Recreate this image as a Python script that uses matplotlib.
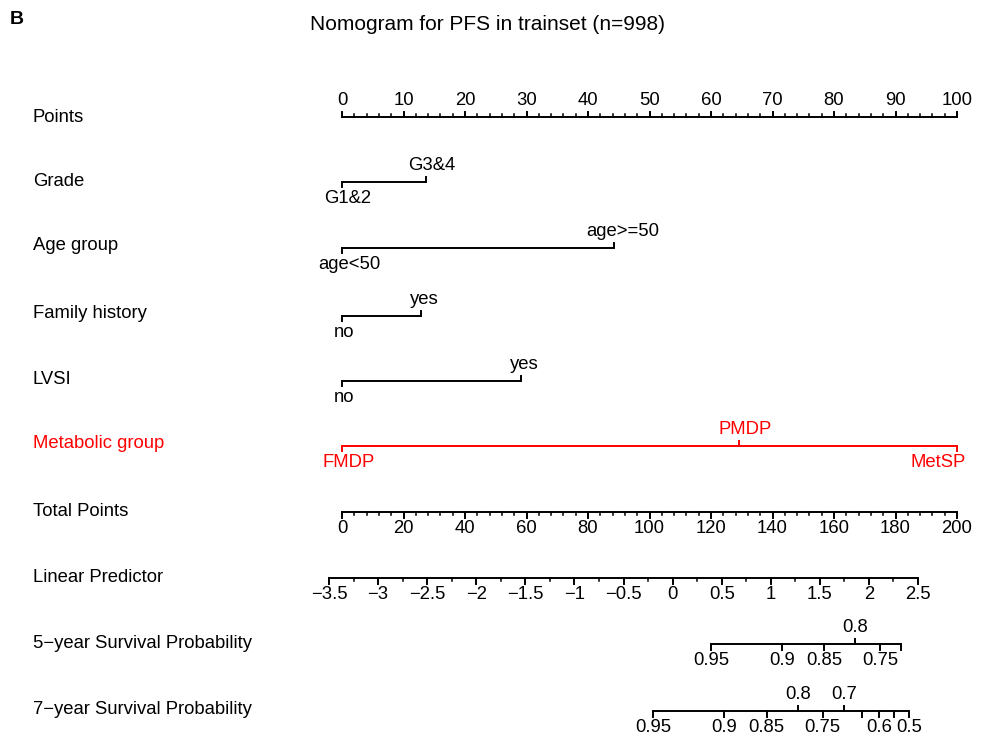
"""Nomogram for PFS in the training set, redrawn with matplotlib."""

import matplotlib

matplotlib.use("Agg")

import matplotlib.pyplot as plt
import numpy as np
from matplotlib.transforms import offset_copy

plt.rcParams["font.family"] = ["Liberation Sans", "DejaVu Sans"]

TITLE = "Nomogram for PFS in trainset (n=998)"
PANEL = "B"
MINUS = "\u2212"

# points contributed by each level of each predictor
grade_levels = ["G1&2", "G3&4"]
grade_points = [0.0, 13.6]
age_levels = ["age<50", "age>=50"]
age_points = [0.0, 44.2]
family_levels = ["no", "yes"]
family_points = [0.0, 12.8]
lvsi_levels = ["no", "yes"]
lvsi_points = [0.0, 29.1]
metabolic_levels = ["FMDP", "PMDP", "MetSP"]
metabolic_points = [0.0, 64.5, 100.0]

points_major = np.arange(0, 101, 10)
points_minor = np.arange(0, 101, 2)
total_major = np.arange(0, 201, 20)
total_minor = np.arange(0, 201, 4)
lp_major = np.arange(-3.5, 2.51, 0.5)
lp_minor = np.arange(-3.5, 2.51, 0.25)

# linear predictor = LP_AT_ZERO + LP_PER_TOTAL * total points
LP_AT_ZERO = -3.368
LP_PER_TOTAL = 0.031325

# survival S(t) = S0(t) ** exp(lp)
surv5_baseline = 0.9659
surv5_ticks = [0.95, 0.9, 0.85, 0.8, 0.75, 0.7]
surv5_labels = ["0.95", "0.9", "0.85", "0.8", "0.75", ""]
surv5_above = [False, False, False, True, False, False]
surv7_baseline = 0.9395
surv7_ticks = [0.95, 0.9, 0.85, 0.8, 0.75, 0.7, 0.65, 0.6, 0.55, 0.5]
surv7_labels = ["0.95", "0.9", "0.85", "0.8", "0.75", "0.7", "", "0.6", "", "0.5"]
surv7_above = [False, False, False, True, False, True, False, False, False, False]

row_labels = [
    "Points", "Grade", "Age group", "Family history", "LVSI",
    "Metabolic group", "Total Points", "Linear Predictor",
    f"5{MINUS}year Survival Probability", f"7{MINUS}year Survival Probability",
]
row_text_y = [117, 181, 245, 313, 380, 444, 512, 578, 643, 709]
row_line_y = [117, 182, 248, 316, 381, 446, 512, 578, 644, 711]

W, H = 995, 736
X0_PX, X100_PX = 342, 957
FS = 13.3
LW = 1.4
LABEL_OFF = 16.5
MAJOR_LEN, MINOR_LEN, END_LEN = 5.5, 3.0, 5.0
LABEL_SHIFT = 0.12      # level labels sit a little right of their tick
RIGHT_EDGE_PAD = 9      # px a right-most level label may pass the line end


def total_to_points(total):
    return np.asarray(total, dtype=float) / 2.0


def lp_to_points(lp):
    return total_to_points((np.asarray(lp, dtype=float) - LP_AT_ZERO) / LP_PER_TOTAL)


def surv_to_points(surv, baseline):
    surv = np.asarray(surv, dtype=float)
    lp = np.log(-np.log(surv)) - np.log(-np.log(baseline))
    return lp_to_points(lp)


def fmt(value):
    return f"{value:g}".replace("-", MINUS)


def draw_scale(ax, y, major, labels, minor=None, above=None, color="black"):
    major = np.asarray(major, dtype=float)
    if above is None:
        above = [False] * len(major)
    ax.plot([major.min(), major.max()], [y, y], color=color, lw=LW,
            solid_capstyle="butt")
    if minor is not None:
        for x in minor:
            ax.plot([x, x], [y, y + MINOR_LEN * (-1 if above[0] else 1)],
                    color=color, lw=LW * 0.8)
    for x, label, up in zip(major, labels, above):
        sign = -1 if up else 1
        ax.plot([x, x], [y, y + sign * MAJOR_LEN], color=color, lw=LW)
        if label:
            ax.text(x, y + sign * LABEL_OFF, label, ha="center", va="center",
                    fontsize=FS, color=color)


def draw_factor(ax, renderer, y, levels, points, above, color="black",
                last_right=False):
    ax.plot([min(points), max(points)], [y, y], color=color, lw=LW,
            solid_capstyle="butt")
    for i, (x, label, up) in enumerate(zip(points, levels, above)):
        sign = -1 if up else 1
        ax.plot([x, x], [y, y + sign * END_LEN], color=color, lw=LW)
        text = ax.text(x, y + sign * LABEL_OFF, label, ha="center",
                       va="center", fontsize=FS, color=color)
        width = text.get_window_extent(renderer).width
        if last_right and i == len(levels) - 1:
            dx = RIGHT_EDGE_PAD - width / 2
        else:
            dx = LABEL_SHIFT * width
        text.set_transform(offset_copy(ax.transData, fig=ax.figure, x=dx,
                                       y=0, units="dots"))


def main():
    fig = plt.figure(figsize=(W / 100, H / 100), dpi=100)
    ax = fig.add_axes([0, 0, 1, 1])
    px_per_point = (X100_PX - X0_PX) / 100.0
    ax.set_xlim(-X0_PX / px_per_point, (W - X0_PX) / px_per_point)
    ax.set_ylim(H, 0)
    ax.axis("off")
    renderer = fig.canvas.get_renderer()

    fig.text(10 / W, 1 - 20 / H, PANEL, fontsize=14, fontweight="bold",
             ha="left", va="center")
    fig.text(488 / W, 1 - 24 / H, TITLE, fontsize=15, ha="center", va="center")

    red = "#ff0000"
    for label, y in zip(row_labels, row_text_y):
        ax.text(33 / W, y, label, transform=ax.get_yaxis_transform(),
                fontsize=FS, ha="left", va="center",
                color=red if label == "Metabolic group" else "black")

    ly = row_line_y
    draw_scale(ax, ly[0], points_major, [fmt(v) for v in points_major],
               minor=points_minor, above=[True] * len(points_major))
    draw_factor(ax, renderer, ly[1], grade_levels, grade_points, [False, True])
    draw_factor(ax, renderer, ly[2], age_levels, age_points, [False, True])
    draw_factor(ax, renderer, ly[3], family_levels, family_points, [False, True])
    draw_factor(ax, renderer, ly[4], lvsi_levels, lvsi_points, [False, True])
    draw_factor(ax, renderer, ly[5], metabolic_levels, metabolic_points,
                [False, True, False], color=red, last_right=True)
    draw_scale(ax, ly[6], total_to_points(total_major),
               [fmt(v) for v in total_major], minor=total_to_points(total_minor))
    draw_scale(ax, ly[7], lp_to_points(lp_major), [fmt(v) for v in lp_major],
               minor=lp_to_points(lp_minor))
    draw_scale(ax, ly[8], surv_to_points(surv5_ticks, surv5_baseline),
               surv5_labels, above=surv5_above)
    draw_scale(ax, ly[9], surv_to_points(surv7_ticks, surv7_baseline),
               surv7_labels, above=surv7_above)

    fig.savefig("out.png", dpi=100)
    plt.close(fig)


if __name__ == "__main__":
    main()
